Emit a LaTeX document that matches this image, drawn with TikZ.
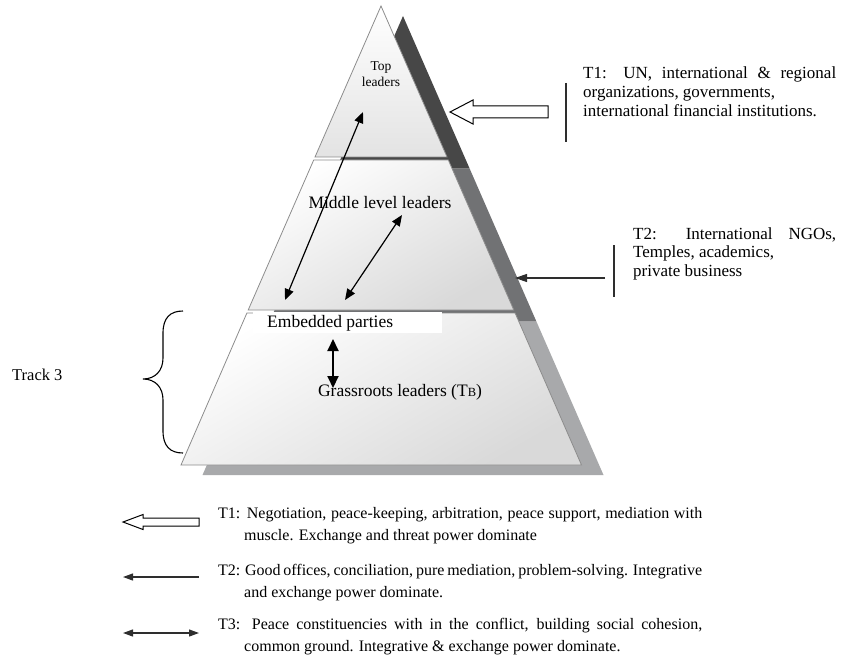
\documentclass[tikz,border=0pt]{standalone}
\usepackage{fontspec}
\setmainfont{Liberation Serif}
\usetikzlibrary{arrows.meta}
\definecolor{shA}{HTML}{474747}
\definecolor{shB}{HTML}{717274}
\definecolor{shC}{HTML}{A8A9AB}
\definecolor{edgegray}{HTML}{8C8C8C}
\definecolor{inkgray}{HTML}{2E2E2E}
\tikzset{
  tier/.style={draw=edgegray, line width=0.8pt, top color=white, bottom color=gray!22},
  tierslant/.style={draw=edgegray, line width=0.8pt, top color=white, bottom color=gray!30, shading angle=30},
  mainlbl/.style={inner sep=0pt, font=\fontsize{17.5}{20}\selectfont},
  toplbl/.style={inner sep=0pt, align=center, font=\fontsize{13.5}{16}\selectfont},
  sidelbl/.style={inner sep=0pt, anchor=base west, font=\fontsize{17}{18.6}\selectfont},
  leglbl/.style={inner sep=0pt, anchor=base west, font=\fontsize{16}{22}\selectfont},
  dbl/.style={line width=1.2pt, {Triangle[length=11pt,width=9pt]}-{Triangle[length=11pt,width=9pt]}},
  single/.style={line width=1.2pt, inkgray, -{Triangle[length=12pt,width=8pt]}},
  hollow/.style={draw=black, fill=white, line width=1pt, line join=miter},
  bar/.style={line width=1.3pt, inkgray}
}
\begin{document}
\begin{tikzpicture}[x=1pt,y=-1pt]
\useasboundingbox (0,0) rectangle (842,655);
% shadows
\fill[shA] (403,16) -- (469.6,168.5) -- (336.4,168.5) -- cycle;
\fill[shB] (336.4,168.5) -- (469.6,168.5) -- (536.4,321.5) -- (269.6,321.5) -- cycle;
\fill[shC] (269.6,321.5) -- (536.4,321.5) -- (603.5,475) -- (202.5,475) -- cycle;
% front tiers
\path[tier] (381,6) -- (447,157) -- (315,157) -- cycle;
\path[tierslant] (313.7,160) -- (448.3,160) -- (513.8,310) -- (248.2,310) -- cycle;
\path[tierslant] (246.9,313) -- (515.1,313) -- (581.5,465) -- (181,465) -- cycle;
% embedded box
\node[fill=white, inner sep=0pt, minimum width=189pt, minimum height=21pt, anchor=north west] (embox) at (253,312) {};
% labels
\node[toplbl] (toplead) at (381,74) {Top\\leaders};
\node[mainlbl] (mid) at (380,203) {Middle level leaders};
\node[mainlbl, anchor=west] (emb) at (267,323) {Embedded parties};
\node[mainlbl] (grass) at (400,392) {Grassroots leaders (T{\fontsize{12.5}{12}\selectfont B})};
\node[mainlbl, anchor=west, font=\fontsize{16.5}{20}\selectfont] (track) at (12,375) {Track 3};
% internal arrows
\coordinate (a1s) at (285,300); \coordinate (a1e) at (363,112);
\coordinate (a2s) at (345,300); \coordinate (a2e) at (402,215);
\coordinate (a3s) at (333,339); \coordinate (a3e) at (333,388);
\draw[dbl] (a1s) -- (a1e);
\draw[dbl] (a2s) -- (a2e);
\draw[line width=2pt, {Triangle[length=12pt,width=11pt]}-{Triangle[length=12pt,width=11pt]}] (a3s) -- (a3e);
% brace
\draw[line width=1.1pt] (183,311) .. controls (170,311) and (163,318) .. (163,333) -- (163,358) .. controls (163,371) and (155,379) .. (143,379) .. controls (155,379) and (163,387) .. (163,400) -- (163,431) .. controls (163,446) and (170,453) .. (183,453);
% T1 right
\path[hollow] (548,106) -- (473,106) -- (473,100) -- (450,112) -- (473,124) -- (473,118) -- (548,118) -- cycle;
\coordinate (b1t) at (566,83); \coordinate (b1b) at (566,142);
\draw[bar] (b1t) -- (b1b);
\node[sidelbl] (t1txt) at (583,79) {\parbox[t]{253pt}{\makebox[253pt][s]{T1: UN, international \& regional}\\organizations, governments,\\international financial institutions.}};
% T2 right
\coordinate (t2tail) at (605,278); \coordinate (t2tip) at (515,278);
\draw[single] (t2tail) -- (t2tip);
\coordinate (b2t) at (614,245); \coordinate (b2b) at (614,297);
\draw[bar] (b2t) -- (b2b);
\node[sidelbl] (t2txt) at (633,239) {\parbox[t]{203pt}{\makebox[203pt][s]{T2: International NGOs,}\\Temples, academics,\\private business}};
% legend
\path[hollow] (199,518) -- (143,518) -- (143,514.5) -- (123,522) -- (143,529.5) -- (143,526) -- (199,526) -- cycle;
\node[leglbl] (l1) at (218,518) {\parbox[t]{484pt}{\makebox[484pt][s]{T1: Negotiation, peace-keeping, arbitration, peace support, mediation with}\\\hspace*{26pt}muscle. Exchange and threat power dominate}};
\coordinate (l2tail) at (199,577); \coordinate (l2tip) at (123,577);
\draw[line width=1.2pt, inkgray, -{Triangle[length=10pt,width=7pt]}] (l2tail) -- (l2tip);
\node[leglbl] (l2) at (218,575) {\parbox[t]{484pt}{\makebox[484pt][s]{T2: Good offices, conciliation, pure mediation, problem-solving. Integrative}\\\hspace*{26pt}and exchange power dominate.}};
\coordinate (l3a) at (123,633); \coordinate (l3b) at (199,633);
\draw[line width=1.2pt, inkgray, {Triangle[length=10pt,width=7pt]}-{Triangle[length=10pt,width=7pt]}] (l3a) -- (l3b);
\node[leglbl] (l3) at (218,629) {\parbox[t]{484pt}{\makebox[484pt][s]{T3: Peace constituencies with in the conflict, building social cohesion,}\\\hspace*{26pt}common ground. Integrative \& exchange power dominate.}};
\end{tikzpicture}
\end{document}
